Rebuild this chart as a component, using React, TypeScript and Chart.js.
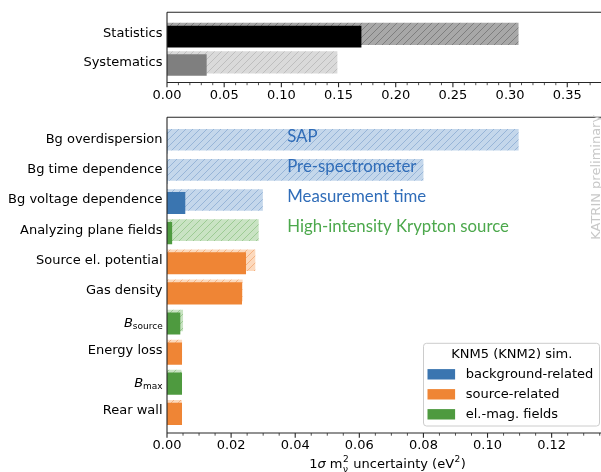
import React, { useEffect, useRef } from 'react';
import { Chart, registerables } from 'chart.js';
Chart.register(...registerables);

// ---------- data ----------
const topCategories = ['Statistics', 'Systematics'];
const topKnm5 = [0.1697, 0.0344];
const topKnm2 = [0.3071, 0.1487];
const topMajorTicks = [0, 0.05, 0.1, 0.15, 0.2, 0.25, 0.3, 0.35];

const categories = [
  'Bg overdispersion',
  'Bg time dependence',
  'Bg voltage dependence',
  'Analyzing plane fields',
  'Source el. potential',
  'Gas density',
  'B_source',
  'Energy loss',
  'B_max',
  'Rear wall',
];
const groups = ['background', 'background', 'background', 'fields', 'source', 'source', 'fields', 'source', 'fields', 'source'];
const knm5 = [0, 0, 0.0056, 0.0015, 0.02455, 0.0233, 0.00405, 0.00458, 0.00458, 0.00458];
const knm2 = [0.1096, 0.0799, 0.0298, 0.0285, 0.02745, 0.0235, 0.0049, 0.0046, 0.0044, 0.0045];
const bottomMajorTicks = [0, 0.02, 0.04, 0.06, 0.08, 0.1, 0.12];

const noteTexts = ['SAP', 'Pre-spectrometer', 'Measurement time', 'High-intensity Krypton source'];
const noteGroups = ['background', 'background', 'background', 'fields'];
const noteX = 0.0375;

const legendTitle = 'KNM5 (KNM2) sim.';
const legendGroups = ['background', 'source', 'fields'];
const legendLabels = ['background-related', 'source-related', 'el.-mag. fields'];

// ---------- styles ----------
const W = 601;
const TOP_H = 105;
const BOT_H = 367;
const FONT = 'DejaVu Sans';

const solidColor: Record<string, string> = { background: '#3a75b0', source: '#ef8535', fields: '#4e9a3f' };
const hatchFill: Record<string, string> = { background: '#c4d7eb', source: '#fcd9bd', fields: '#c9e3c3' };
const hatchLine: Record<string, string> = { background: '#97b5d8', source: '#f4b282', fields: '#9dcb94' };
const noteColor: Record<string, string> = { background: '#2f6cb8', fields: '#4ca84c' };

function makeHatch(ctx: CanvasRenderingContext2D, fill: string, line: string) {
  const s = 7;
  const c = document.createElement('canvas');
  c.width = s;
  c.height = s;
  const g = c.getContext('2d')!;
  g.fillStyle = fill;
  g.fillRect(0, 0, s, s);
  g.strokeStyle = line;
  g.lineWidth = 1;
  g.beginPath();
  g.moveTo(-1, s + 1);
  g.lineTo(s + 1, -1);
  g.moveTo(-1, 1);
  g.lineTo(1, -1);
  g.moveTo(s - 1, s + 1);
  g.lineTo(s + 1, s - 1);
  g.stroke();
  return ctx.createPattern(c, 'repeat')!;
}

const shiftPlugin = {
  id: 'shiftDs',
  beforeDatasetDraw(chart: any, args: any) {
    const ds = chart.data.datasets[args.index];
    if (ds.shiftY) {
      chart.ctx.save();
      chart.ctx.translate(0, ds.shiftY);
    }
  },
  afterDatasetDraw(chart: any, args: any) {
    const ds = chart.data.datasets[args.index];
    if (ds.shiftY) chart.ctx.restore();
  },
};

function framePlugin(major: number[], minorStep: number, max: number) {
  return {
    id: 'frame',
    afterDraw(chart: any) {
      const { ctx, chartArea: a, scales } = chart;
      const x = scales.x;
      ctx.save();
      ctx.strokeStyle = '#262626';
      ctx.lineWidth = 1.1;
      ctx.beginPath();
      ctx.moveTo(a.left, a.top);
      ctx.lineTo(a.right + 5, a.top);
      ctx.moveTo(a.left, a.top);
      ctx.lineTo(a.left, a.bottom);
      ctx.lineTo(a.right + 5, a.bottom);
      for (const v of major) {
        const px = x.getPixelForValue(v);
        ctx.moveTo(px, a.bottom);
        ctx.lineTo(px, a.bottom + 4.7);
      }
      ctx.stroke();
      ctx.lineWidth = 0.8;
      ctx.beginPath();
      const n = Math.floor(max / minorStep + 1e-9);
      for (let i = 1; i <= n; i++) {
        const v = i * minorStep;
        if (major.some((m) => Math.abs(m - v) < 1e-9)) continue;
        const px = x.getPixelForValue(v);
        ctx.moveTo(px, a.bottom);
        ctx.lineTo(px, a.bottom + 2.7);
      }
      ctx.stroke();
      ctx.restore();
    },
  };
}

function yAxis(labels: string[], min: number, max: number) {
  return {
    type: 'linear',
    reverse: true,
    offset: false,
    min,
    max,
    afterFit: (s: any) => {
      s.width = 167;
    },
    afterBuildTicks: (s: any) => {
      s.ticks = labels.map((_, i) => ({ value: i }));
    },
    grid: { display: false, drawTicks: false },
    border: { display: false },
    ticks: {
      autoSkip: false,
      padding: 4.5,
      color: '#000',
      font: { family: FONT, size: 13 },
      callback: (v: number) => {
        const l = labels[Math.round(v)];
        return l && l.includes('_') ? '' : l;
      },
    },
  };
}

function xAxis(major: number[], max: number, height: number) {
  return {
    type: 'linear',
    min: 0,
    max,
    offset: false,
    afterFit: (s: any) => {
      s.height = height;
    },
    afterBuildTicks: (s: any) => {
      s.ticks = major.map((v) => ({ value: v }));
    },
    grid: { display: false, drawTicks: false },
    border: { display: false },
    ticks: {
      autoSkip: false,
      maxRotation: 0,
      padding: 5,
      color: '#000',
      font: { family: FONT, size: 13 },
      callback: (v: number) => v.toFixed(2),
    },
  };
}

function makeTop(canvas: HTMLCanvasElement) {
  const ctx = canvas.getContext('2d')!;
  const solid = ['#000000', '#7f7f7f'];
  const hatched = [makeHatch(ctx, '#a8a8a8', '#7e7e7e'), makeHatch(ctx, '#dadada', '#bebebe')];
  return new Chart(canvas, {
    type: 'bar',
    data: {
      datasets: [
        {
          label: 'KNM5',
          data: topKnm5.map((v, i) => ({ x: v, y: i })),
          backgroundColor: solid,
          barThickness: 21,
          grouped: false,
          borderWidth: 0,
          shiftY: 2.7,
        } as any,
        {
          label: 'KNM2',
          data: topKnm2.map((v, i) => ({ x: v, y: i })),
          backgroundColor: hatched,
          barThickness: 21.5,
          grouped: false,
          borderWidth: 0,
        } as any,
      ],
    },
    options: {
      indexAxis: 'y',
      animation: false,
      responsive: false,
      layout: { padding: { top: 7, right: 0, left: 0, bottom: 0 } },
      plugins: { legend: { display: false }, tooltip: { enabled: false } },
      scales: {
        x: xAxis(topMajorTicks, 0.3795, TOP_H - 82.5) as any,
        y: yAxis(topCategories, -0.758, 1.709) as any,
      },
    } as any,
    plugins: [shiftPlugin, framePlugin(topMajorTicks, 0.01, 0.3795)],
  });
}

function drawBottomExtras(chart: any) {
  const { ctx, chartArea: a, scales } = chart;
  const x = scales.x;
  const y = scales.y;
  ctx.save();
  // math labels on y axis
  categories.forEach((c, i) => {
    if (!c.includes('_')) return;
    const [base, sub] = c.split('_');
    const py = y.getPixelForValue(i);
    ctx.fillStyle = '#000';
    ctx.textBaseline = 'alphabetic';
    ctx.font = `9px ${FONT}`;
    const ws = ctx.measureText(sub).width;
    ctx.font = `italic 13px ${FONT}`;
    const wb = ctx.measureText(base).width;
    const right = a.left - 4.3;
    ctx.fillText(base, right - ws - wb, py + 6.8);
    ctx.font = `9px ${FONT}`;
    ctx.fillText(sub, right - ws, py + 8.2);
  });
  // annotations
  ctx.font = `16.8px Lato`;
  ctx.textBaseline = 'middle';
  ctx.textAlign = 'left';
  noteTexts.forEach((t, i) => {
    ctx.fillStyle = noteColor[noteGroups[i]];
    ctx.fillText(t, x.getPixelForValue(noteX), y.getPixelForValue(i) - 3.5);
  });
  // watermark
  ctx.save();
  ctx.translate(600, a.top + 60);
  ctx.rotate(-Math.PI / 2);
  ctx.font = `13px ${FONT}`;
  ctx.fillStyle = '#c8c8c8';
  ctx.textAlign = 'center';
  ctx.textBaseline = 'alphabetic';
  ctx.fillText('KATRIN preliminary', 0, 0);
  ctx.restore();
  // x axis title
  const baseY = a.bottom + 35;
  const parts: [string, string][] = [
    ['1', `13px ${FONT}`],
    ['σ', `italic 13px ${FONT}`],
    [' m', `13px ${FONT}`],
  ];
  ctx.textBaseline = 'alphabetic';
  ctx.textAlign = 'left';
  const w = (t: string, f: string) => {
    ctx.font = f;
    return ctx.measureText(t).width;
  };
  const f9 = `9px ${FONT}`;
  const f13 = `13px ${FONT}`;
  const wScript = Math.max(w('2', f9), w('ν', f9));
  const mid = ' uncertainty (eV';
  const total =
    parts.reduce((s, p) => s + w(p[0], p[1]), 0) + wScript + 1 + w(mid, f13) + w('2', f9) + 1 + w(')', f13);
  let cx = 387.5 - total / 2;
  ctx.fillStyle = '#000';
  for (const p of parts) {
    ctx.font = p[1];
    ctx.fillText(p[0], cx, baseY);
    cx += w(p[0], p[1]);
  }
  ctx.font = f9;
  ctx.fillText('2', cx + 0.5, baseY - 6.5);
  ctx.fillText('ν', cx + 0.5, baseY + 3.5);
  cx += wScript + 1;
  ctx.font = f13;
  ctx.fillText(mid, cx, baseY);
  cx += w(mid, f13);
  ctx.font = f9;
  ctx.fillText('2', cx + 0.5, baseY - 6.5);
  cx += w('2', f9) + 1;
  ctx.font = f13;
  ctx.fillText(')', cx, baseY);
  // legend
  const lx = 423.5;
  const lr = 599.5;
  const lb = a.bottom - 7;
  const lt = lb - 82.7;
  ctx.fillStyle = 'rgba(255,255,255,0.85)';
  ctx.strokeStyle = '#cccccc';
  ctx.lineWidth = 1;
  ctx.beginPath();
  (ctx as any).roundRect(lx, lt, lr - lx, lb - lt, 3);
  ctx.fill();
  ctx.stroke();
  ctx.fillStyle = '#000';
  ctx.font = f13;
  ctx.textAlign = 'center';
  ctx.textBaseline = 'middle';
  ctx.fillText(legendTitle, 511.8, lt + 11.3);
  ctx.textAlign = 'left';
  legendGroups.forEach((g, i) => {
    const cy = lt + 31 + i * 20;
    ctx.fillStyle = solidColor[g];
    ctx.fillRect(427.5, cy - 5.2, 27.6, 10.4);
    ctx.fillStyle = '#000';
    ctx.fillText(legendLabels[i], 465.7, cy);
  });
  ctx.restore();
}

function makeBottom(canvas: HTMLCanvasElement) {
  const ctx = canvas.getContext('2d')!;
  const patterns: Record<string, CanvasPattern> = {};
  for (const g of Object.keys(solidColor)) patterns[g] = makeHatch(ctx, hatchFill[g], hatchLine[g]);
  const top = 110 - TOP_H;
  const bottom = 433 - TOP_H;
  return new Chart(canvas, {
    type: 'bar',
    data: {
      datasets: [
        {
          label: 'KNM5',
          data: knm5.map((v, i) => ({ x: v, y: i })),
          backgroundColor: groups.map((g) => solidColor[g]),
          barThickness: 21.5,
          grouped: false,
          borderWidth: 0,
          shiftY: 3,
        } as any,
        {
          label: 'KNM2',
          data: knm2.map((v, i) => ({ x: v, y: i })),
          backgroundColor: groups.map((g) => patterns[g]),
          barThickness: 21,
          grouped: false,
          borderWidth: 0,
        } as any,
      ],
    },
    options: {
      indexAxis: 'y',
      animation: false,
      responsive: false,
      layout: { padding: { top, right: 0, left: 0, bottom: 0 } },
      plugins: { legend: { display: false }, tooltip: { enabled: false } },
      scales: {
        x: xAxis(bottomMajorTicks, 0.1354, BOT_H - bottom) as any,
        y: yAxis(categories, -0.747, 9.737) as any,
      },
    } as any,
    plugins: [
      shiftPlugin,
      framePlugin(bottomMajorTicks, 0.005, 0.1354),
      { id: 'extras', afterDraw: drawBottomExtras },
    ],
  });
}

export default function App() {
  const topRef = useRef<HTMLCanvasElement>(null);
  const botRef = useRef<HTMLCanvasElement>(null);
  useEffect(() => {
    document.body.style.margin = '0';
    const c1 = makeTop(topRef.current!);
    const c2 = makeBottom(botRef.current!);
    return () => {
      c1.destroy();
      c2.destroy();
    };
  }, []);
  return (
    <div style={{ position: 'relative', width: W, height: 472, overflow: 'hidden', background: '#fff' }}>
      <canvas ref={topRef} width={W} height={TOP_H} style={{ position: 'absolute', left: 0, top: 0 }} />
      <canvas ref={botRef} width={W} height={BOT_H} style={{ position: 'absolute', left: 0, top: TOP_H }} />
    </div>
  );
}
